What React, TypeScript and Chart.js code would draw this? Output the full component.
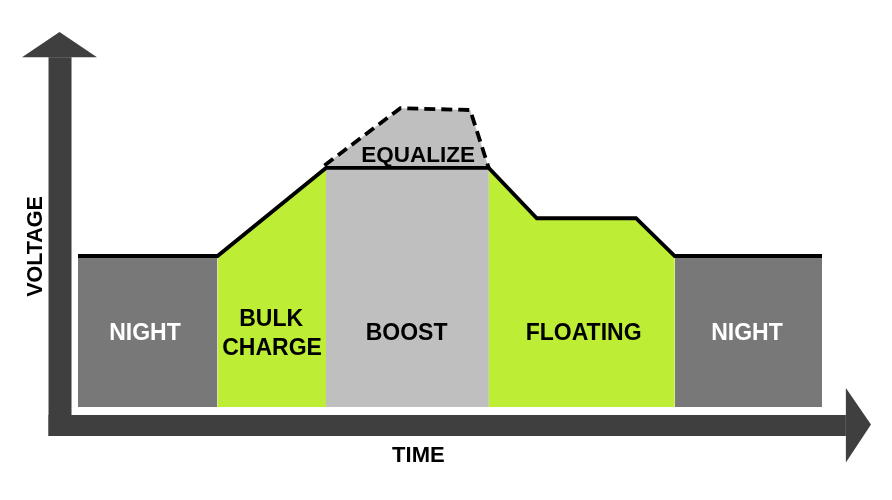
import React, { useEffect, useRef } from "react";
import { Chart, registerables } from "chart.js";

Chart.register(...registerables);

// Time (t) and voltage (v) readings of the profile, in arbitrary units
const lineTime = [0, 4.5, 8.0, 13.25, 14.8, 18.0, 19.25, 24];
const lineVolt = [12, 12, 19, 19, 15, 15, 12, 12];

const night1Time = [0, 4.5];
const night1Volt = [12, 12];
const bulkTime = [4.5, 8.0];
const bulkVolt = [12, 19];
const boostTime = [8.0, 13.25];
const boostVolt = [19, 19];
const floatTime = [13.25, 14.8, 18.0, 19.25];
const floatVolt = [19, 15, 15, 12];
const night2Time = [19.25, 24];
const night2Volt = [12, 12];
const equalTime = [7.95, 10.4, 12.65, 13.25];
const equalVolt = [19.2, 23.75, 23.6, 19];

const stageLabels = ["NIGHT", "BULK", "CHARGE", "BOOST", "FLOATING", "NIGHT", "EQUALIZE"];
const stageLabelTime = [2.16, 6.23, 6.26, 10.6, 16.31, 21.58, 10.97];
const stageLabelVolt = [5.36, 6.4, 4.17, 5.32, 5.32, 5.32, 19.51];
const stageLabelColor = ["#ffffff", "#000000", "#000000", "#000000", "#000000", "#ffffff", "#000000"];
const stageLabelSize = [23, 23, 23, 23, 23, 23, 22.5];

const xTitle = "TIME";
const yTitle = "VOLTAGE";

const AXIS_COLOR = "#3f3f3f";
const NIGHT_COLOR = "#787878";
const GREEN = "#bdee35";
const BOOST_COLOR = "#bfbfbf";

const pts = (t: number[], v: number[]) => t.map((x, i) => ({ x, y: v[i] }));

const decorPlugin = {
  id: "decor",
  afterDatasetsDraw(chart: any) {
    const { ctx, scales } = chart;
    const xs = scales.x;
    const ys = scales.y;
    const font = (s: number) => `bold ${s}px "Liberation Sans", Arial, sans-serif`;

    // axes arrows
    const ox = xs.getPixelForValue(-0.58);
    const oy = ys.getPixelForValue(-1.47);
    ctx.save();
    ctx.fillStyle = AXIS_COLOR;
    ctx.fillRect(ox - 11.5, ys.getPixelForValue(27.8), 23, oy + 10.5 - ys.getPixelForValue(27.8));
    const vTip = ys.getPixelForValue(29.8);
    const vBase = ys.getPixelForValue(27.8);
    ctx.beginPath();
    ctx.moveTo(ox - 0.5, vTip);
    ctx.lineTo(ox + 37, vBase);
    ctx.lineTo(ox - 38, vBase);
    ctx.closePath();
    ctx.fill();
    const hBase = xs.getPixelForValue(24.77);
    const hTip = xs.getPixelForValue(25.58);
    ctx.fillRect(ox - 11.5, oy - 10.5, hBase - (ox - 11.5), 21);
    ctx.beginPath();
    ctx.moveTo(hTip, oy - 1);
    ctx.lineTo(hBase, oy + 37);
    ctx.lineTo(hBase, oy - 37.5);
    ctx.closePath();
    ctx.fill();

    ctx.textAlign = "center";
    ctx.textBaseline = "alphabetic";
    stageLabels.forEach((s, i) => {
      ctx.font = font(stageLabelSize[i]);
      ctx.fillStyle = stageLabelColor[i];
      ctx.fillText(s, xs.getPixelForValue(stageLabelTime[i]), ys.getPixelForValue(stageLabelVolt[i]));
    });

    ctx.fillStyle = "#000000";
    ctx.font = font(22);
    ctx.fillText(xTitle, xs.getPixelForValue(10.98), ys.getPixelForValue(-4.41));
    ctx.save();
    ctx.translate(xs.getPixelForValue(-1.17), ys.getPixelForValue(12.76));
    ctx.rotate(-Math.PI / 2);
    ctx.font = font(21.5);
    ctx.fillText(yTitle, 0, 0);
    ctx.restore();
    ctx.restore();
  },
};

export default function App() {
  const ref = useRef<HTMLCanvasElement | null>(null);

  useEffect(() => {
    document.body.style.margin = "0";
    const canvas = ref.current;
    if (!canvas) return;
    const area = (t: number[], v: number[], color: string) => ({
      data: pts(t, v),
      borderWidth: 0.8,
      borderColor: color,
      backgroundColor: color,
      fill: "origin",
      pointRadius: 0,
      tension: 0,
    });
    const chart = new Chart(canvas, {
      type: "line",
      data: {
        datasets: [
          {
            data: pts(lineTime, lineVolt),
            borderColor: "#000000",
            borderWidth: 3.8,
            borderJoinStyle: "miter",
            fill: false,
            pointRadius: 0,
            tension: 0,
          },
          area(boostTime, boostVolt, BOOST_COLOR),
          area(bulkTime, bulkVolt, GREEN),
          area(floatTime, floatVolt, GREEN),
          area(night1Time, night1Volt, NIGHT_COLOR),
          area(night2Time, night2Volt, NIGHT_COLOR),
          {
            data: pts(equalTime, equalVolt),
            borderColor: "#000000",
            borderWidth: 3.8,
            borderDash: [11, 6],
            borderJoinStyle: "miter",
            backgroundColor: BOOST_COLOR,
            fill: "origin",
            pointRadius: 0,
            tension: 0,
          },
        ] as any,
      },
      options: {
        animation: false,
        responsive: false,
        devicePixelRatio: 1,
        layout: { padding: 0 },
        plugins: { legend: { display: false }, tooltip: { enabled: false } },
        scales: {
          x: { type: "linear", display: false, min: -2.516, max: 26.258 },
          y: { type: "linear", display: false, min: -7.391, max: 32.345 },
        },
      } as any,
      plugins: [decorPlugin],
    });
    return () => chart.destroy();
  }, []);

  return <canvas ref={ref} width={892} height={500} style={{ display: "block", width: 892, height: 500 }} />;
}
